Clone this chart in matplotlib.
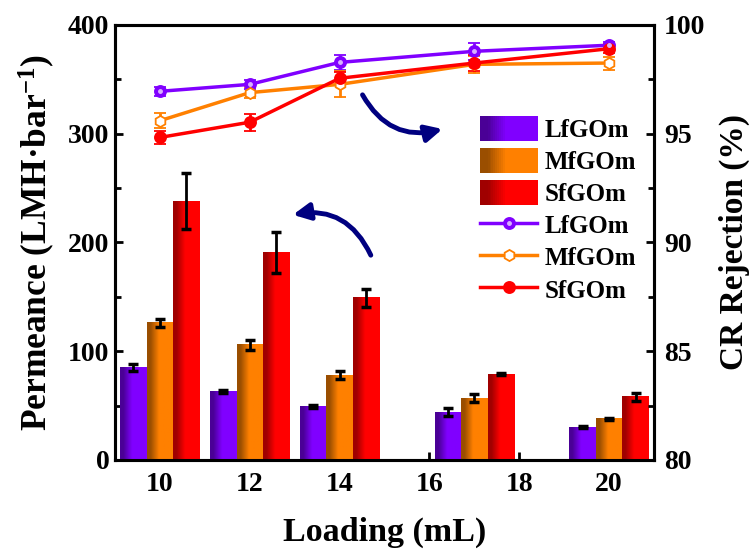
import matplotlib
matplotlib.use('Agg')
import matplotlib.pyplot as plt
import numpy as np
from matplotlib.colors import to_rgb
from matplotlib.legend_handler import HandlerBase, HandlerTuple
from matplotlib.patches import Rectangle
from matplotlib.lines import Line2D

plt.rcParams['font.family'] = 'Liberation Serif'
plt.rcParams['font.weight'] = 'bold'
plt.rcParams['axes.labelweight'] = 'bold'
plt.rcParams['mathtext.fontset'] = 'custom'
plt.rcParams['mathtext.rm'] = 'Liberation Serif:bold'
plt.rcParams['mathtext.bf'] = 'Liberation Serif:bold'
plt.rcParams['mathtext.default'] = 'bf'

# data
loading = [10, 12, 14, 17, 20]
xticks = [10, 12, 14, 16, 18, 20]
names = ['LfGOm', 'MfGOm', 'SfGOm']

perm = {'LfGOm': [85, 63, 49, 44, 30],
        'MfGOm': [126, 106, 78, 57, 38],
        'SfGOm': [238, 191, 149, 79, 58]}
perm_err = {'LfGOm': [3.5, 1.2, 1.5, 3.7, 1.0],
            'MfGOm': [4.0, 4.5, 3.5, 3.5, 1.0],
            'SfGOm': [26, 19, 8, 1.2, 4]}

rej = {'LfGOm': [96.95, 97.27, 98.28, 98.79, 99.07],
       'MfGOm': [95.6, 96.89, 97.27, 98.19, 98.25],
       'SfGOm': [94.83, 95.53, 97.55, 98.25, 98.91]}
rej_err = {'LfGOm': [0.2, 0.2, 0.35, 0.4, 0.15],
           'MfGOm': [0.35, 0.25, 0.6, 0.4, 0.3],
           'SfGOm': [0.3, 0.4, 0.3, 0.35, 0.2]}

bright = {'LfGOm': '#8000FF', 'MfGOm': '#FF8000', 'SfGOm': '#FF0000'}
dark = {'LfGOm': '#4A0096', 'MfGOm': '#9A4E00', 'SfGOm': '#A00000'}


def gradient(name, n=40):
    c0 = np.array(to_rgb(dark[name]))
    c1 = np.array(to_rgb(bright[name]))
    t = np.clip((np.linspace(0, 1, n) - 0.12) / 0.33, 0, 1)
    return c0[None, :] * (1 - t[:, None]) + c1[None, :] * t[:, None]


class GradientHandler(HandlerBase):
    def create_artists(self, legend, orig, xd, yd, width, height, fontsize, trans):
        cols = gradient(orig.get_label(), 30)
        w = width / len(cols)
        out = []
        for i, c in enumerate(cols):
            out.append(Rectangle((-xd + i * w, -yd), w * 1.05, height,
                                 facecolor=c, edgecolor='none', transform=trans))
        return out


fig = plt.figure(figsize=(7.54, 5.54), dpi=100)
ax = fig.add_axes([0.1525, 0.1697, 0.715, 0.7852])
ax2 = ax.twinx()

width = 0.59
bar_handles = []
for k, name in enumerate(names):
    pos = [x + (k - 1) * width for x in loading]
    bars = ax.bar(pos, perm[name], width=width, color=bright[name], zorder=2)
    ax.errorbar(pos, perm[name], yerr=perm_err[name], fmt='none', ecolor='k',
                elinewidth=2, capsize=3.5, capthick=2.5, zorder=4)
    img = gradient(name)[None, :, :]
    for b in bars:
        ax.imshow(img, extent=(b.get_x(), b.get_x() + b.get_width(), 0, b.get_height()),
                  aspect='auto', zorder=3, interpolation='bilinear')
    bar_handles.append(Rectangle((0, 0), 1, 1, label=name))

ax.set_xlim(9, 21)
ax.set_ylim(0, 400)
ax.set_xticks(xticks)
ax.set_yticks([0, 100, 200, 300, 400])
ax.set_yticks([50, 150, 250, 350], minor=True)

line_handles = []
mk = {'LfGOm': dict(marker='o', mfc='#8000FF', mec='#8000FF'),
      'MfGOm': dict(marker='h', mfc='white', mec='#FF8000'),
      'SfGOm': dict(marker='o', mfc='#FF0000', mec='#FF0000')}
for name in names:
    ax2.errorbar(loading, rej[name], yerr=rej_err[name], color=bright[name], lw=2.5,
                 ms=8, mew=1.3, capsize=4, capthick=2.5, elinewidth=2, zorder=3,
                 **mk[name])
    h = Line2D([], [], color=bright[name], lw=2.5, ms=8, mew=1.3, **mk[name])
    if name == 'LfGOm':
        ax2.plot(loading, rej[name], 'o', ms=2.5, color='#D8B0FF', zorder=4)
        hl = Line2D([], [], ls='none', marker='o', ms=2.5, color='#D8B0FF')
        line_handles.append((h, hl))
    else:
        line_handles.append(h)

ax2.set_ylim(80, 100)
ax2.set_yticks([80, 85, 90, 95, 100])
ax2.set_yticks([82.5, 87.5, 92.5, 97.5], minor=True)

for a in (ax, ax2):
    for s in a.spines.values():
        s.set_linewidth(2.2)
ax.tick_params(axis='both', which='both', direction='in', width=2, labelsize=20)
ax.tick_params(axis='y', which='major', length=6, pad=4)
ax.tick_params(axis='y', which='minor', length=4)
ax.tick_params(axis='x', which='major', length=6, pad=9)
ax2.tick_params(axis='y', which='both', direction='in', width=2, labelsize=20, pad=7)
ax2.tick_params(axis='y', which='major', length=6)
ax2.tick_params(axis='y', which='minor', length=4)

ax.set_xlabel('Loading (mL)', fontsize=24.5, labelpad=14)
ax.set_ylabel('Permeance (LMH·bar$^{-1}$)', fontsize=25.5, labelpad=8)
ax2.set_ylabel('CR Rejection (%)', fontsize=24, rotation=90, labelpad=10)

# curved arrows
arrow = dict(arrowstyle='-|>,head_length=1.0,head_width=0.5', color='#000080',
             lw=3.5, connectionstyle='arc3,rad=0.4')
ax.annotate('', xy=(16.35, 305), xytext=(14.48, 338), arrowprops=arrow, zorder=5)
ax.annotate('', xy=(12.9, 225), xytext=(14.72, 186), arrowprops=arrow, zorder=5)

ax2.legend(bar_handles + line_handles, names + names,
           handler_map={Rectangle: GradientHandler(), tuple: HandlerTuple(ndivide=1, pad=0)},
           loc='upper left', bbox_to_anchor=(0.6366, 0.7906), bbox_transform=fig.transFigure,
           frameon=False, fontsize=18, borderpad=0, borderaxespad=0,
           handlelength=2.3, handleheight=1.15, handletextpad=0.3, labelspacing=0.25)

fig.savefig('out.png', dpi=100)
